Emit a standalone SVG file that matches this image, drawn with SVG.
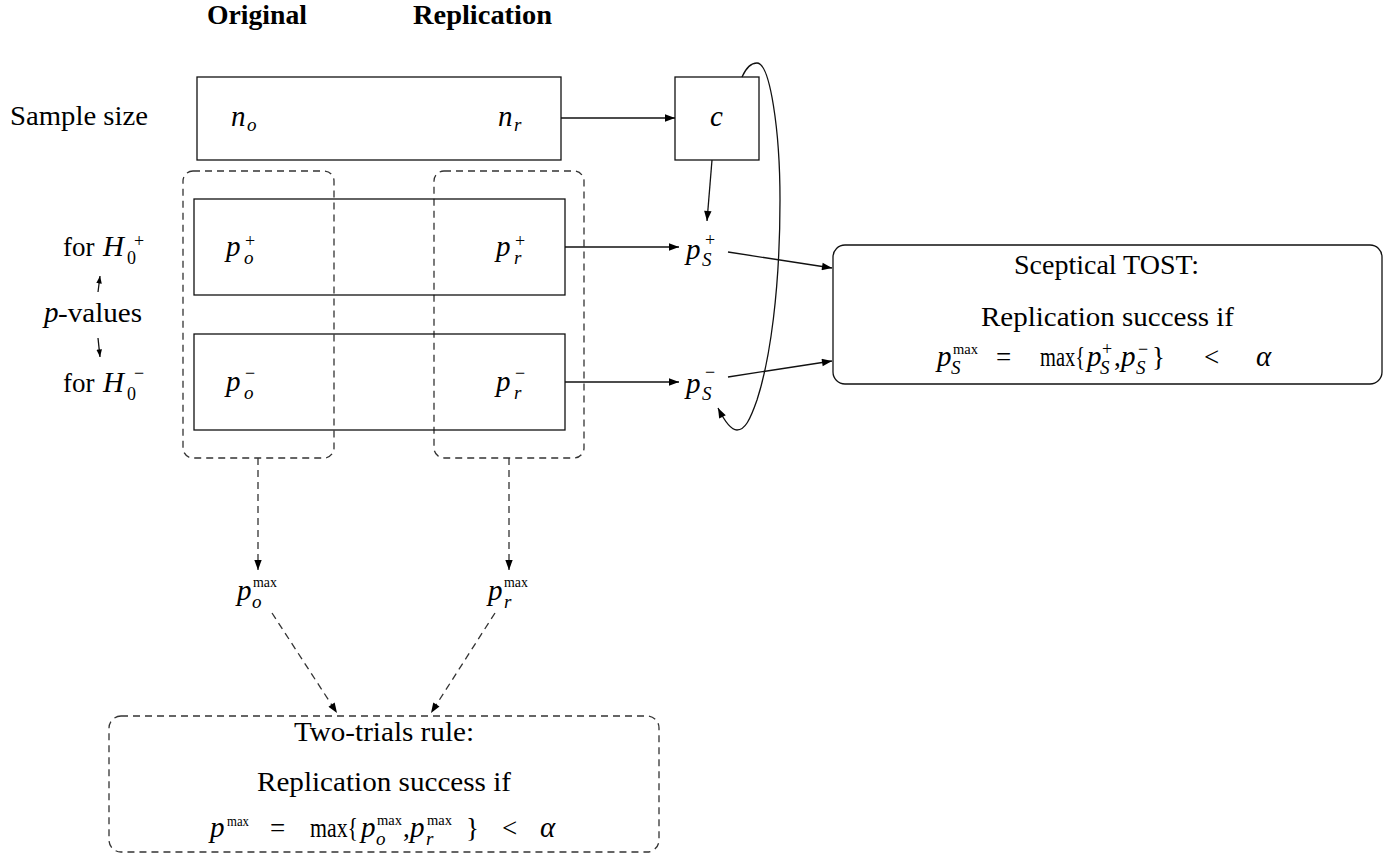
<svg xmlns="http://www.w3.org/2000/svg" width="1396" height="856" viewBox="0 0 1396 856">
<style>
text{font-family:"Liberation Serif","DejaVu Serif",serif;fill:#000}
.t{font-size:27px}
.b{font-size:27px;font-weight:bold}
.m{font-size:29px;font-style:italic}
.mu{font-size:27px;font-style:normal}
.s{font-size:18px;font-style:normal}
.si{font-size:19px;font-style:italic}
.x{font-size:14px;font-style:normal}
.box{fill:none;stroke:#111;stroke-width:1.3}
.dbox{fill:none;stroke:#333;stroke-width:1.3;stroke-dasharray:7 5}
.c{fill:none;stroke:#111;stroke-width:1.3}
.cd{fill:none;stroke:#333;stroke-width:1.3;stroke-dasharray:7 5}
</style>
<defs>
<marker id="ah" markerUnits="userSpaceOnUse" viewBox="0 0 10 8" markerWidth="11" markerHeight="8" refX="10" refY="4" orient="auto">
<path d="M0,0.3 L10,4 L0,7.7 Z" fill="#000"/>
</marker>
<marker id="ahs" markerUnits="userSpaceOnUse" viewBox="0 0 10 8" markerWidth="8" markerHeight="6" refX="10" refY="4" orient="auto">
<path d="M0,0.3 L10,4 L0,7.7 Z" fill="#000"/>
</marker>
</defs>

<g id="headers">
<text class="b" x="207" y="24" textLength="100" lengthAdjust="spacingAndGlyphs">Original</text>
<text class="b" x="413" y="24" textLength="139" lengthAdjust="spacingAndGlyphs">Replication</text>
</g>

<g id="row-labels">
<text class="t" x="10" y="125" textLength="138" lengthAdjust="spacingAndGlyphs">Sample size</text>
<text class="t"><tspan x="63" y="256">for</tspan><tspan class="m" x="103" y="256">H</tspan><tspan class="s" x="127" y="264">0</tspan><tspan class="s" x="134" y="247">+</tspan></text>
<text class="t"><tspan class="m" x="44" y="322">p</tspan><tspan x="58" y="322" textLength="84" lengthAdjust="spacingAndGlyphs">-values</tspan></text>
<text class="t"><tspan x="63" y="392">for</tspan><tspan class="m" x="103" y="392">H</tspan><tspan class="s" x="127" y="400">0</tspan><tspan class="s" x="134" y="379">−</tspan></text>
</g>

<g id="group-original">
<rect class="dbox" x="183" y="171" width="151" height="287" rx="10"/>
</g>
<g id="group-replication">
<rect class="dbox" x="434" y="171" width="150" height="287" rx="10"/>
</g>

<g id="sample-size">
<rect class="box" x="197" y="77" width="364" height="83"/>
<text class="m"><tspan x="231" y="126">n</tspan><tspan class="si" x="247" y="131">o</tspan></text>
<text class="m"><tspan x="498" y="126">n</tspan><tspan class="si" x="514" y="131">r</tspan></text>
</g>

<g id="c-node">
<rect class="box" x="675" y="77" width="84" height="83"/>
<text class="m" x="710" y="126">c</text>
</g>

<g id="p-plus">
<rect class="box" x="194" y="199" width="371" height="96"/>
<text class="m"><tspan x="226" y="256">p</tspan><tspan class="s" x="245" y="247">+</tspan><tspan class="si" x="244" y="264">o</tspan></text>
<text class="m"><tspan x="496" y="256">p</tspan><tspan class="s" x="515" y="247">+</tspan><tspan class="si" x="514" y="264">r</tspan></text>
</g>

<g id="p-minus">
<rect class="box" x="194" y="334" width="371" height="96"/>
<text class="m"><tspan x="226" y="391">p</tspan><tspan class="s" x="245" y="379">−</tspan><tspan class="si" x="244" y="399">o</tspan></text>
<text class="m"><tspan x="496" y="391">p</tspan><tspan class="s" x="515" y="379">−</tspan><tspan class="si" x="514" y="399">r</tspan></text>
</g>

<g id="pS-plus">
<text class="m"><tspan x="686" y="259">p</tspan><tspan class="s" x="705" y="246">+</tspan><tspan class="si" x="702" y="266">S</tspan></text>
</g>

<g id="pS-minus">
<text class="m"><tspan x="686" y="393">p</tspan><tspan class="s" x="705" y="378">−</tspan><tspan class="si" x="702" y="400">S</tspan></text>
</g>

<g id="sceptical-tost">
<rect class="box" x="833" y="245" width="549" height="139" rx="12"/>
<text class="t" x="1014" y="274" textLength="185" lengthAdjust="spacingAndGlyphs">Sceptical TOST:</text>
<text class="t" x="981" y="326" textLength="253" lengthAdjust="spacingAndGlyphs">Replication success if</text>
<text class="m"><tspan x="937" y="366">p</tspan><tspan class="x" x="953" y="354" textLength="25" lengthAdjust="spacingAndGlyphs">max</tspan><tspan class="si" x="951" y="374">S</tspan><tspan class="mu" x="996" y="366">=</tspan><tspan class="mu" x="1040" y="366" textLength="45" lengthAdjust="spacingAndGlyphs">max{</tspan><tspan x="1087" y="366">p</tspan><tspan class="s" x="1102" y="355">+</tspan><tspan class="si" x="1100" y="374">S</tspan><tspan class="mu" x="1114" y="366">,</tspan><tspan x="1121" y="366">p</tspan><tspan class="s" x="1138" y="355">−</tspan><tspan class="si" x="1136" y="374">S</tspan><tspan class="mu" x="1152" y="366">}</tspan><tspan class="mu" x="1204" y="366">&lt;</tspan><tspan x="1256" y="366">α</tspan></text>
</g>

<g id="po-max">
<text class="m"><tspan x="237" y="600">p</tspan><tspan class="x" x="253" y="587" textLength="24" lengthAdjust="spacingAndGlyphs">max</tspan><tspan class="si" x="252" y="608">o</tspan></text>
</g>

<g id="pr-max">
<text class="m"><tspan x="488" y="600">p</tspan><tspan class="x" x="504" y="587" textLength="24" lengthAdjust="spacingAndGlyphs">max</tspan><tspan class="si" x="504" y="608">r</tspan></text>
</g>

<g id="two-trials">
<rect class="dbox" x="109" y="716" width="550" height="136" rx="12"/>
<text class="t" x="294" y="741" textLength="180" lengthAdjust="spacingAndGlyphs">Two-trials rule:</text>
<text class="t" x="257" y="791" textLength="254" lengthAdjust="spacingAndGlyphs">Replication success if</text>
<text class="m"><tspan x="210" y="837">p</tspan><tspan class="x" x="227" y="826" textLength="22" lengthAdjust="spacingAndGlyphs">max</tspan><tspan class="mu" x="270" y="837">=</tspan><tspan class="mu" x="310" y="837" textLength="48" lengthAdjust="spacingAndGlyphs">max{</tspan><tspan x="361" y="837">p</tspan><tspan class="x" x="377" y="825" textLength="25" lengthAdjust="spacingAndGlyphs">max</tspan><tspan class="si" x="376" y="845">o</tspan><tspan class="mu" x="403" y="837">,</tspan><tspan x="410" y="837">p</tspan><tspan class="x" x="427" y="825" textLength="25" lengthAdjust="spacingAndGlyphs">max</tspan><tspan class="si" x="426" y="845">r</tspan><tspan class="mu" x="466" y="837">}</tspan><tspan class="mu" x="502" y="837">&lt;</tspan><tspan x="540" y="837">α</tspan></text>
</g>

<g id="connectors">
<line class="c" x1="98" y1="292" x2="100" y2="276" marker-end="url(#ahs)"/>
<line class="c" x1="98" y1="338" x2="100" y2="357" marker-end="url(#ahs)"/>
<line class="c" x1="561" y1="118" x2="675" y2="118" marker-end="url(#ah)"/>
<line class="c" x1="712" y1="160" x2="707" y2="221" marker-end="url(#ah)"/>
<line class="c" x1="565" y1="247" x2="679" y2="247" marker-end="url(#ah)"/>
<line class="c" x1="565" y1="382" x2="679" y2="382" marker-end="url(#ah)"/>
<line class="c" x1="728" y1="252" x2="832" y2="268" marker-end="url(#ah)"/>
<line class="c" x1="728" y1="377" x2="832" y2="361" marker-end="url(#ah)"/>
<path class="c" d="M742,77 C746,68 751,63 757,63 C770,63 780,130 780,200 C780,290 770,360 757,400 C750,420 745,430 737,430 C730,430 723,418 718,408" marker-end="url(#ah)"/>
<line class="cd" x1="258" y1="458" x2="258" y2="570" marker-end="url(#ah)"/>
<line class="cd" x1="509" y1="458" x2="509" y2="570" marker-end="url(#ah)"/>
<line class="cd" x1="272" y1="613" x2="337" y2="713" marker-end="url(#ah)"/>
<line class="cd" x1="495" y1="613" x2="431" y2="713" marker-end="url(#ah)"/>
</g>
</svg>
